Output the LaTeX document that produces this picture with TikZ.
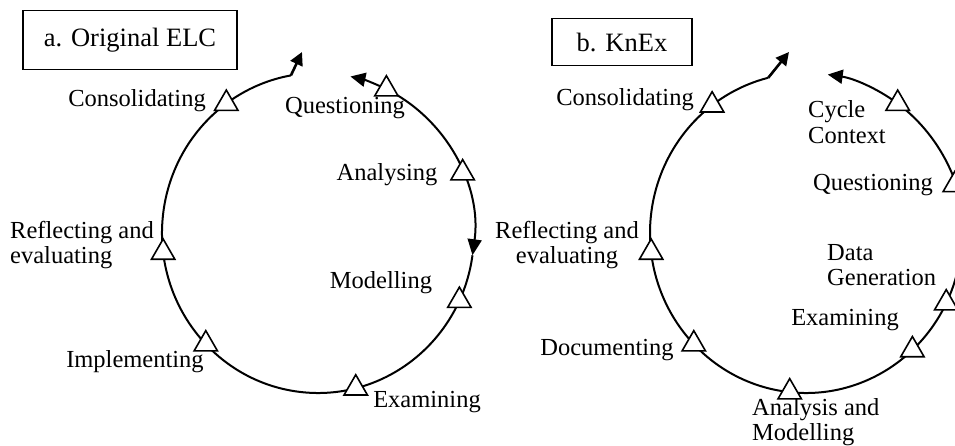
\documentclass[tikz,border=0pt]{standalone}
\usepackage{fontspec}
\setmainfont{Liberation Serif}
\usepackage{tikz}
\usetikzlibrary{shapes.geometric}
\usetikzlibrary{arrows.meta}
\usetikzlibrary{positioning}

\tikzset{
  tri/.style={regular polygon, regular polygon sides=3, draw, fill=white, line width=1.6pt, minimum size=27pt, inner sep=0pt},
  lbl/.style={inner sep=0pt, font=\fontsize{24.5}{25.5}\selectfont},
  titlebox/.style={draw, line width=1.5pt, inner sep=0pt, font=\fontsize{26.5}{27}\selectfont},
  cyc/.style={line width=2pt},
  endtip/.style={line width=2.6pt, -{Triangle[length=13pt,width=13pt]}},
  headA/.style={{Triangle[length=15pt,width=14pt]}-},
  headB/.style={-{Triangle[length=16pt,width=14pt]}}
}

\begin{document}
\begin{tikzpicture}[x=1pt,y=-1pt]
\useasboundingbox (0,0) rectangle (955,446);

% a. Original ELC
\node[titlebox, minimum width=214pt, minimum height=59pt] (boxA) at (130,40) {a. Original ELC};
\begin{scope}[shift={(318,233)}]
\coordinate (gapA) at (-78:156 and 160);
\draw[cyc, headA] (gapA) arc[start angle=-78, end angle=-64, x radius=156, y radius=160];
\draw[cyc, headB] (-64:156 and 160) arc[start angle=-64, end angle=8, x radius=156, y radius=160] coordinate (downA);
\draw[cyc] (downA) arc[start angle=8, end angle=260, x radius=156, y radius=160] coordinate (endA);
\coordinate (tipA) at (-16,-181);
\draw[endtip] (endA) -- (tipA);
\foreach \a/\n in {-64/Qu,-22/An,25/Mo,76/Ex,136/Im,173/Re,234/Co}
  \node[tri] (tA\n) at (\a:156 and 160) {};
\end{scope}
\node[lbl] (lQuA) at (345,108) {Questioning};
\node[lbl] (lAnA) at (387,175) {Analysing};
\node[lbl] (lMoA) at (381,283) {Modelling};
\node[lbl] (lExA) at (427,402) {Examining};
\node[lbl] (lImA) at (135,362) {Implementing};
\node[lbl, align=left, anchor=west] (lReA) at (10,245) {Reflecting and\\evaluating};
\node[lbl] (lCoA) at (137,101) {Consolidating};

% b. KnEx
\node[titlebox, minimum width=140pt, minimum height=47pt] (boxB) at (622,42) {b. KnEx};
\begin{scope}[shift={(806,233)}]
\coordinate (gapB) at (-82:156 and 160);
\draw[cyc, headA] (gapB) arc[start angle=-82, end angle=-54, x radius=156, y radius=160];
\draw[cyc, headB] (-54:156 and 160) arc[start angle=-54, end angle=8, x radius=156, y radius=160] coordinate (downB);
\draw[cyc] (downB) arc[start angle=8, end angle=256, x radius=156, y radius=160] coordinate (endB);
\coordinate (tipB) at (-17,-181);
\draw[endtip] (endB) -- (tipB);
\foreach \a/\n in {-54/Cy,-17.5/Qu,26/Da,47/Ex,96/An,136/Do,173/Re,233/Co}
  \node[tri] (tB\n) at (\a:156 and 160) {};
\end{scope}
\node[lbl] (lCoB) at (625,100) {Consolidating};
\node[lbl, align=left, anchor=west] (lCyB) at (808,122) {Cycle\\Context};
\node[lbl] (lQuB) at (873,185) {Questioning};
\node[lbl, align=left, anchor=west] (lDaB) at (827,265) {Data\\Generation};
\node[lbl] (lExB) at (845,320) {Examining};
\node[lbl, align=left, anchor=west] (lAnB) at (752,422) {Analysis and\\Modelling};
\node[lbl] (lDoB) at (607,350) {Documenting};
\node[lbl, align=center] (lReB) at (567,245) {Reflecting and\\evaluating};
\end{tikzpicture}
\end{document}
